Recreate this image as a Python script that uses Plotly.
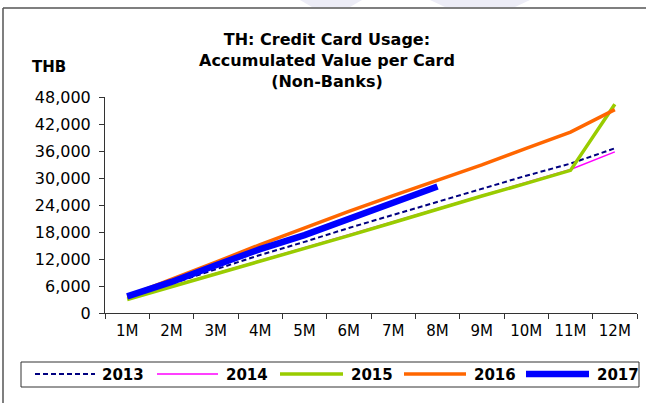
import plotly.graph_objects as go

# Months of the year (accumulated from January)
months = ["1M", "2M", "3M", "4M", "5M", "6M", "7M", "8M", "9M", "10M", "11M", "12M"]

# Accumulated value per card, THB
v2013 = [3500, 6500, 9700, 12900, 15800, 18900, 21800, 24700, 27600, 30500, 33200, 36600]
v2014 = [3200, 6000, 8900, 11700, 14500, 17400, 20300, 23300, 26200, 29100, 31900, 35800]
v2015 = [3000, 5800, 8700, 11400, 14200, 17200, 20100, 23100, 26000, 28800, 31700, 46400]
v2016 = [3700, 7400, 11300, 15200, 19000, 22600, 26100, 29500, 32900, 36600, 40200, 45200]
v2017 = [3700, 6900, 10600, 14200, 17300, 20900, 24500, 28100]

years = ["2013", "2014", "2015", "2016", "2017"]
yticks = list(range(0, 48001, 6000))

W, H = 646, 403
L, R, T, B = 105, 9, 97, 90
PW, PH = W - L - R, H - T - B

FONT = "DejaVu Sans"


def px(x):
    return (x - L) / PW


def py(y):
    return (H - B - y) / PH


styles = {
    "2013": dict(color="#000080", width=2, dash="5px,3px"),
    "2014": dict(color="#FF00FF", width=1.5, dash="solid"),
    "2015": dict(color="#99CC00", width=3.5, dash="solid"),
    "2016": dict(color="#FF6600", width=3.5, dash="solid"),
    "2017": dict(color="#0000FF", width=6.5, dash="solid"),
}
series = {"2013": v2013, "2014": v2014, "2015": v2015, "2016": v2016, "2017": v2017}

fig = go.Figure()
for yr in years:
    vals = series[yr]
    fig.add_trace(go.Scatter(
        x=months[:len(vals)], y=vals, mode="lines", name=yr,
        line=dict(shape="linear", **styles[yr]), showlegend=False,
    ))

shapes = []
annotations = []

# Frame: top and left rules of the panel
shapes.append(dict(type="line", xref="paper", yref="paper",
                   x0=px(3), x1=px(646), y0=py(8), y1=py(8),
                   line=dict(color="#555555", width=1.5)))
shapes.append(dict(type="line", xref="paper", yref="paper",
                   x0=px(3), x1=px(3), y0=py(8), y1=py(403),
                   line=dict(color="#555555", width=1.5)))

# Faint background marks along the top edge
for (a, b, c, d) in [(300, 362, 350, 312), (430, 530, 515, 445)]:
    shapes.append(dict(type="path", xref="paper", yref="paper", layer="below",
                       path=f"M {px(a)},{py(0)} L {px(b)},{py(0)} L {px(c)},{py(7)} L {px(d)},{py(7)} Z",
                       fillcolor="#ECECF6", line=dict(width=0)))

# Legend box with line samples
shapes.append(dict(type="rect", xref="paper", yref="paper",
                   x0=px(21), x1=px(639), y0=py(362), y1=py(387),
                   line=dict(color="#333333", width=1), fillcolor="rgba(0,0,0,0)"))
leg_x = [(35, 95, 100), (157, 218, 224), (280, 343, 349), (404, 466, 472), (526, 589, 595)]
for yr, (x0, x1, tx) in zip(years, leg_x):
    st = styles[yr]
    shapes.append(dict(type="line", xref="paper", yref="paper",
                       x0=px(x0), x1=px(x1), y0=py(374), y1=py(374),
                       line=dict(color=st["color"], width=st["width"], dash=st["dash"])))
    annotations.append(dict(text=f"<b>{yr}</b>", xref="paper", yref="paper",
                            x=px(tx), y=py(374.5), xanchor="left", yanchor="middle",
                            showarrow=False, font=dict(family=FONT, size=15, color="#000000")))

# Title, three centred lines
annotations.append(dict(
    text="<b>TH: Credit Card Usage:<br>Accumulated Value per Card<br>(Non-Banks)</b>",
    xref="paper", yref="paper", x=px(327), y=py(60), xanchor="center", yanchor="middle",
    align="center", showarrow=False, font=dict(family=FONT, size=16, color="#000000")))

annotations.append(dict(text="<b>THB</b>", xref="paper", yref="paper",
                        x=px(30), y=py(67), xanchor="left", yanchor="middle",
                        showarrow=False, font=dict(family=FONT, size=15, color="#000000")))

fig.update_layout(
    width=W, height=H, autosize=False,
    margin=dict(l=L, r=R, t=T, b=B, pad=0),
    paper_bgcolor="white", plot_bgcolor="white",
    showlegend=False,
    shapes=shapes, annotations=annotations,
    font=dict(family=FONT, size=15, color="#000000"),
)
fig.update_xaxes(
    type="category", categoryorder="array", categoryarray=months,
    range=[-0.5, 11.5], tickson="boundaries", ticks="outside", ticklen=5,
    tickcolor="#333333", showline=True, linecolor="#333333", linewidth=1,
    showgrid=False, zeroline=False, ticklabelstandoff=4,
    tickfont=dict(family=FONT, size=15, color="#000000"),
)
fig.update_yaxes(
    range=[0, 48000], tickvals=yticks, ticktext=[f"{v:,}" for v in yticks],
    ticks="outside", ticklen=5, tickcolor="#333333", showline=True,
    linecolor="#333333", linewidth=1, showgrid=False, zeroline=False,
    ticklabelstandoff=5,
    tickfont=dict(family=FONT, size=16, color="#000000"),
)

fig.write_html("out.html")
